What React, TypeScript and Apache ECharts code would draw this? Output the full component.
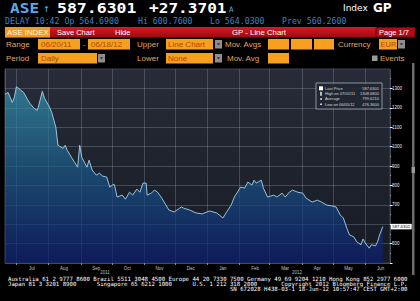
import React, { useEffect, useRef } from "react";
import * as echarts from "echarts";

const MONTHS = ["Jan", "Feb", "Mar", "Apr", "May", "Jun", "Jul", "Aug", "Sep", "Oct", "Nov", "Dec"];

const dates = [
  "2011-06-20", "2011-06-23", "2011-06-27", "2011-06-29", "2011-07-01", "2011-07-05", "2011-07-08",
  "2011-07-12", "2011-07-14", "2011-07-18", "2011-07-21", "2011-07-22", "2011-07-26", "2011-07-28",
  "2011-08-01", "2011-08-04", "2011-08-08", "2011-08-10", "2011-08-15", "2011-08-17", "2011-08-19",
  "2011-08-23", "2011-08-26", "2011-08-29", "2011-08-31", "2011-09-02", "2011-09-05", "2011-09-07",
  "2011-09-09", "2011-09-12", "2011-09-16", "2011-09-19", "2011-09-22", "2011-09-26", "2011-09-29",
  "2011-10-03", "2011-10-04", "2011-10-06", "2011-10-11", "2011-10-14", "2011-10-18", "2011-10-21",
  "2011-10-25", "2011-10-28", "2011-10-31", "2011-11-03", "2011-11-04", "2011-11-08", "2011-11-11",
  "2011-11-14", "2011-11-18", "2011-11-22", "2011-11-25", "2011-11-30", "2011-12-07", "2011-12-09",
  "2011-12-15", "2011-12-21", "2011-12-27", "2012-01-03", "2012-01-10", "2012-01-16", "2012-01-19",
  "2012-01-24", "2012-01-27", "2012-02-02", "2012-02-06", "2012-02-09", "2012-02-13", "2012-02-15",
  "2012-02-17", "2012-02-22", "2012-02-24", "2012-02-28", "2012-03-05", "2012-03-08", "2012-03-13",
  "2012-03-16", "2012-03-20", "2012-03-23", "2012-03-28", "2012-04-02", "2012-04-05", "2012-04-11",
  "2012-04-16", "2012-04-20", "2012-04-25", "2012-04-30", "2012-05-04", "2012-05-08", "2012-05-11",
  "2012-05-15", "2012-05-17", "2012-05-21", "2012-05-24", "2012-05-28", "2012-05-30", "2012-06-01",
  "2012-06-05", "2012-06-07", "2012-06-11", "2012-06-13", "2012-06-15", "2012-06-18",
];

const prices = [
  1270, 1279, 1228, 1254, 1308.68, 1292, 1279,
  1240, 1223, 1197, 1187, 1202, 1285, 1249,
  1213, 1177, 1100, 1007, 991, 1007, 981,
  945, 920, 894, 1007, 945, 914, 894,
  930, 879, 853, 863, 848, 843, 791,
  807, 791, 740, 750, 729, 765, 750,
  781, 765, 812, 812, 750, 760, 776,
  765, 735, 699, 673, 663, 689, 683,
  673, 658, 653, 668, 658, 632, 658,
  699, 740, 791, 786, 817, 802, 827,
  812, 827, 786, 740, 750, 740, 760,
  740, 765, 776, 765, 760, 735, 714,
  724, 714, 699, 694, 689, 648, 632,
  571, 545, 535, 509, 494, 524, 504,
  476.36, 494, 488, 509, 545, 587.63,
];

const yTickValues = [400, 500, 600, 700, 800, 900, 1000, 1100, 1200, 1300];
const yLabelValues = [500, 700, 800, 900, 1000, 1100, 1200, 1300];
const yearLabels = ["2011", "2012"];

const legendLabels = ["Last Price", "High on 07/01/11", "Average", "Low on 06/05/12"];
const legendValues = ["587.6301", "1308.6800", "799.6210", "476.3600"];

const footerLines = [
  "Australia 61 2 9777 8600 Brazil 5511 3048 4500 Europe 44 20 7330 7500 Germany 49 69 9204 1210 Hong Kong 852 2977 6000",
  "Japan 81 3 3201 8900      Singapore 65 6212 1000      U.S. 1 212 318 2000       Copyright 2012 Bloomberg Finance L.P.",
  "                                                                 SN 672028 H438-03-1 18-Jun-12 10:57:47 CEST GMT+2:00",
];

const DAY = 86400000;
const SANS = "Liberation Sans";
const MONO = "DejaVu Sans Mono";
const ORANGE = "#f7a01e";
const BOXTXT = "#b24800";
const LABEL = "#e2a45c";

type TOpts = { family?: string; weight?: string; align?: string; sx?: number };
const txt = (text: string, x: number, y: number, size: number, fill: string, o: TOpts = {}) => ({
  type: "text",
  x,
  y,
  z: 100,
  scaleX: o.sx || 1,
  style: {
    text,
    fill,
    fontSize: size,
    fontFamily: o.family || SANS,
    fontWeight: o.weight || "normal",
    align: o.align || "left",
    verticalAlign: "middle",
  },
});
const box = (x: number, y: number, w: number, h: number, fill: any, stroke?: string) => ({
  type: "rect",
  z: 90,
  shape: { x, y, width: w, height: h },
  style: stroke ? { fill, stroke, lineWidth: 0.8 } : { fill },
});
const drop = (x: number, y: number) => [
  box(x, y, 7, 8.5, "#8e8e8e"),
  {
    type: "polygon",
    z: 95,
    shape: { points: [[x + 1.8, y + 3.2], [x + 5.2, y + 3.2], [x + 3.5, y + 5.6]] },
    style: { fill: "#333" },
  },
];

export default function App() {
  const ref = useRef<HTMLDivElement>(null);

  useEffect(() => {
    if (!ref.current) return;
    const chart = echarts.init(ref.current, undefined, { renderer: "svg" });
    const seriesData = dates.map((d, i) => [d, prices[i]]);

    const redBar = new echarts.graphic.LinearGradient(0, 0, 0, 1, [
      { offset: 0, color: "#dc1822" },
      { offset: 1, color: "#9a0a12" },
    ]);

    const graphics: any[] = [
      // Row 1
      txt("ASE", 10, 8.2, 14, "#5aa8e8", { family: MONO, weight: "bold", sx: 1.15 }),
      txt("\u2191", 43, 8.2, 11, "#5aa8e8", { family: MONO }),
      txt("587.6301", 57, 8.2, 14, "#ffffff", { family: MONO, weight: "bold", sx: 1.18 }),
      txt("+27.3701", 149, 8.2, 14, "#ffffff", { family: MONO, weight: "bold", sx: 1.15 }),
      txt("A", 229, 9.5, 7.5, "#5aa8e8", { family: MONO }),
      txt("Index", 343, 8.2, 9, "#ffffff", { family: "DejaVu Sans" }),
      txt("GP", 373, 8.2, 12, "#ffffff", { family: "DejaVu Sans", weight: "bold" }),
      // Row 2
      txt("DELAY 10:42 Op 564.6900", 5, 21.4, 8, "#3d82c0", { family: MONO, sx: 1.03 }),
      txt("Hi 600.7600", 138, 21.4, 8, "#3d82c0", { family: MONO, sx: 1.03 }),
      txt("Lo 564.0300", 210, 21.4, 8, "#3d82c0", { family: MONO, sx: 1.03 }),
      txt("Prev 560.2600", 282, 21.4, 8, "#3d82c0", { family: MONO, sx: 1.03 }),
      // Row 3 red bar
      box(5, 27, 410, 10.5, redBar),
      box(5, 27, 45, 10.5, "#f29a26"),
      txt("ASE INDEX", 7, 32.4, 7.8, "#fff6e6"),
      txt("Save Chart", 57, 32.4, 7.5, "#ffffff"),
      txt("Hide", 115, 32.4, 7.5, "#ffffff"),
      txt("GP - Line Chart", 232, 32.4, 7.8, "#ffffff"),
      box(376, 27.5, 39, 9.5, "#b00c16", "#5a0006"),
      txt("Page 1/7", 379, 32.4, 7.5, "#ffffff"),
      // Row 4
      txt("Range", 6, 44.3, 8, LABEL),
      box(38, 39, 42, 10.5, ORANGE),
      txt("06/20/11", 41, 44.3, 8, BOXTXT),
      txt("-", 83, 44.3, 8, LABEL),
      box(88, 39, 42, 10.5, ORANGE),
      txt("06/18/12", 91, 44.3, 8, BOXTXT),
      txt("Upper", 137, 44.3, 8, LABEL),
      box(166, 39, 47, 10.5, ORANGE),
      txt("Line Chart", 168, 44.3, 8, BOXTXT),
      ...drop(215, 40),
      txt("Mov. Avgs", 225, 44.3, 8, LABEL),
      box(268, 39, 21, 10.5, ORANGE),
      box(291, 39, 21, 10.5, ORANGE),
      box(314, 39, 20, 10.5, ORANGE),
      txt("Currency", 338, 44.3, 8, LABEL),
      box(379, 39, 18, 10.5, ORANGE),
      txt("EUR", 380.5, 44.3, 7.5, BOXTXT),
      ...drop(398, 40),
      // Row 5
      txt("Period", 6, 58.3, 8, LABEL),
      box(38, 53, 59, 10.5, ORANGE),
      txt("Daily", 41, 58.3, 8, BOXTXT),
      ...drop(98, 54),
      txt("Lower", 137, 58.3, 8, LABEL),
      box(166, 53, 47, 10.5, ORANGE),
      txt("None", 168, 58.3, 8, BOXTXT),
      ...drop(215, 54),
      txt("Mov. Avg", 227, 58.3, 8, LABEL),
      box(268, 53, 21, 10.5, ORANGE),
      box(372, 55.5, 5.5, 5.5, "#9a9a9a"),
      txt("Events", 380, 58.3, 8, LABEL),
      // scrollbar
      box(412, 63, 2.5, 212, "#6c6c6c"),
      box(411.5, 167, 3.5, 6, "#9a9a9a"),
      // year labels
      txt(yearLabels[0], 105, 272.5, 4.5, "#bdbdbd", { align: "center" }),
      txt(yearLabels[1], 297, 272.5, 4.5, "#bdbdbd", { align: "center" }),
      // legend box
      box(316, 83, 66, 26, "rgba(32,38,50,0.9)", "#a8b0c0"),
      box(319, 86.3, 4, 4, "#ffffff"),
      box(320.3, 91.7, 1.4, 4, "#ffffff"),
      { type: "circle", z: 100, shape: { cx: 321, cy: 99, r: 0.8 }, style: { fill: "#fff" } },
      { type: "circle", z: 100, shape: { cx: 321, cy: 104.2, r: 0.8 }, style: { fill: "#fff" } },
      ...legendLabels.map((l, i) => txt(l, 325, 88.3 + i * 5.3, 4, "#d8d8d8")),
      ...legendValues.map((v, i) => txt(v, 379, 88.3 + i * 5.3, 4, "#d8d8d8", { align: "right" })),
      // footer
      ...footerLines.map((l, i) => ({
        type: "text",
        x: 8,
        y: 279 + i * 5.1,
        z: 100,
        style: {
          text: l,
          fill: "#ffffff",
          fontSize: 5.68,
          fontFamily: MONO,
          align: "left",
          verticalAlign: "middle",
        },
      })),
    ];

    chart.setOption({
      animation: false,
      backgroundColor: "#000000",
      grid: {
        left: 5,
        right: 30,
        top: 69,
        bottom: 38,
        show: true,
        backgroundColor: new echarts.graphic.LinearGradient(0, 0, 0, 1, [
          { offset: 0, color: "#272c38" },
          { offset: 1, color: "#161a23" },
        ]),
        borderColor: "#3c4352",
        borderWidth: 1,
      },
      xAxis: {
        type: "time",
        min: new Date(2011, 5, 20).getTime(),
        max: new Date(2012, 5, 25).getTime(),
        minInterval: 28 * DAY,
        maxInterval: 31 * DAY,
        splitNumber: 12,
        z: 3,
        axisLine: { show: false },
        axisTick: { show: true, length: 2, lineStyle: { color: "#8a8a8a" } },
        axisLabel: {
          showMinLabel: false,
          showMaxLabel: false,
          color: "#c4c4c4",
          fontSize: 4.5,
          fontFamily: SANS,
          margin: 3,
          formatter: (v: number) => "{m|" + MONTHS[new Date(v).getMonth()] + "}",
          rich: { m: { fontSize: 4.5, color: "#c4c4c4", fontFamily: SANS, padding: [0, 0, 0, 31] } },
        },
        splitLine: { show: true, lineStyle: { color: "rgba(150,160,180,0.32)", width: 1 } },
      },
      yAxis: {
        type: "value",
        position: "right",
        min: 400,
        max: 1400,
        interval: 100,
        z: 3,
        axisLine: { show: false },
        axisTick: { show: true, length: 2.5, customValues: yTickValues, lineStyle: { color: "#ffffff" } },
        minorTick: { show: true, splitNumber: 2, length: 1, lineStyle: { color: "#9a9a9a" } },
        axisLabel: {
          customValues: yLabelValues,
          color: "#e6e6e6",
          fontSize: 4.5,
          fontFamily: SANS,
          margin: 2,
          formatter: (v: number) => (yLabelValues.indexOf(v) >= 0 ? String(v) : ""),
        },
        splitLine: { show: true, lineStyle: { color: "rgba(150,160,180,0.32)", width: 1 } },
      },
      series: [
        {
          type: "line",
          data: seriesData,
          showSymbol: false,
          symbol: "none",
          lineStyle: { color: "#a6d3ea", width: 0.9 },
          areaStyle: {
            color: new echarts.graphic.LinearGradient(0, 0, 0, 1, [
              { offset: 0, color: "rgba(54,155,184,0.95)" },
              { offset: 0.45, color: "rgba(27,95,142,0.95)" },
              { offset: 1, color: "rgba(10,28,116,0.97)" },
            ]),
          },
          endLabel: {
            show: true,
            formatter: "587.6301",
            color: "#000000",
            backgroundColor: "#ffffff",
            fontSize: 4.3,
            fontFamily: SANS,
            padding: [1, 1.5, 0.5, 1.5],
            distance: 8,
          },
        },
      ],
      graphic: { elements: graphics },
    });

    return () => chart.dispose();
  }, []);

  return (
    <div style={{ position: "fixed", left: 0, top: 0, width: 420, height: 301, background: "#000" }}>
      <div ref={ref} style={{ width: 420, height: 301 }} />
    </div>
  );
}
